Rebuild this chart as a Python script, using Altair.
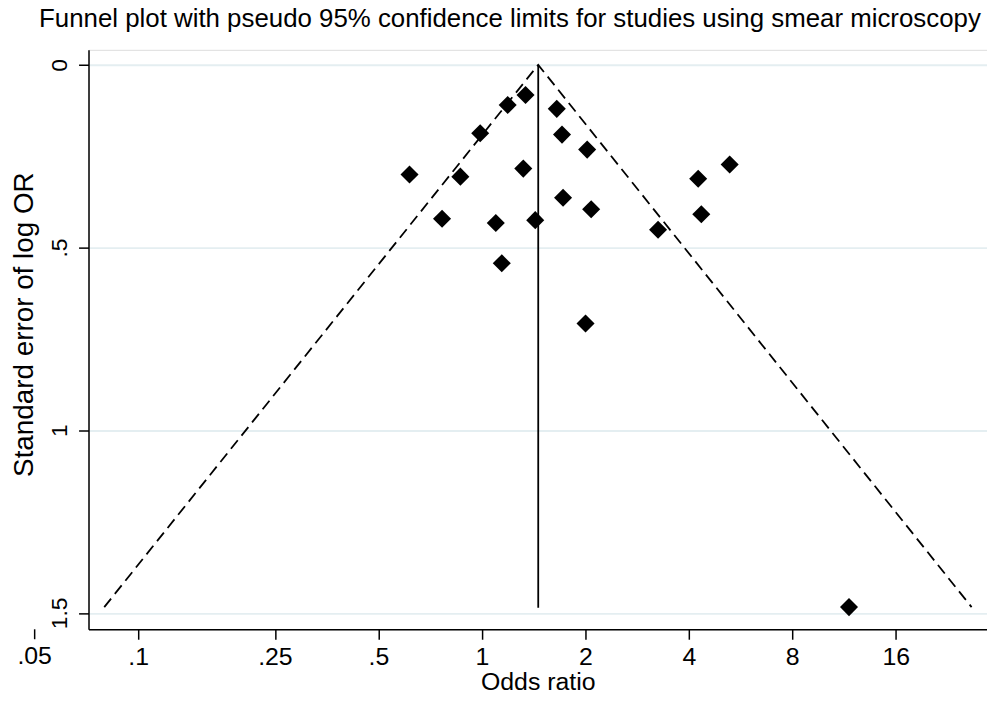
import altair as alt
import pandas as pd

# Study estimates
study_or = [0.616, 0.766, 0.866, 0.989, 1.098, 1.143, 1.189, 1.32, 1.34, 1.43,
            1.652, 1.711, 1.723, 2.025, 2.08, 2.003, 3.256, 4.26, 4.35, 5.26, 11.7]
study_se = [0.300, 0.421, 0.306, 0.187, 0.433, 0.543, 0.110, 0.284, 0.0825, 0.425,
            0.1205, 0.191, 0.364, 0.232, 0.395, 0.708, 0.4515, 0.312, 0.409, 0.273, 1.484]

# Pseudo 95% limits (funnel) and pooled estimate line
funnel_or = [0.0797, 1.459, 26.6]
funnel_se = [1.484, 0.0, 1.484]
funnel_order = [0, 1, 2]
pooled_or = [1.459, 1.459]
pooled_se = [0.0, 1.486]

x_ticks = [0.1, 0.25, 0.5, 1, 2, 4, 8, 16]
extra_tick = [0.05]
extra_label = [".05"]
y_ticks = [0, 0.5, 1, 1.5]

TITLE = "Funnel plot with pseudo 95% confidence limits for studies using smear microscopy"
FONT = "Liberation Sans"
W, H = 904, 583
FSX = 25      # horizontal texts
FSYL = 23     # rotated tick labels
FSYT = 28     # rotated axis title

pts = pd.DataFrame({"or": study_or, "se": study_se})
fun = pd.DataFrame({"or": funnel_or, "se": funnel_se, "o": funnel_order})
pool = pd.DataFrame({"or": pooled_or, "se": pooled_se})
extra = pd.DataFrame({"or": extra_tick, "lab": extra_label})

xscale = alt.Scale(type="log", domain=[0.07172, 29.49], nice=False)
yscale = alt.Scale(domain=[-0.041, 1.5447], reverse=True, nice=False, zero=False)

xaxis = alt.Axis(
    values=x_ticks, title="Odds ratio",
    labelExpr="datum.value < 1 ? substring(toString(datum.value), 1) : toString(datum.value)",
    grid=False, tickSize=10, tickWidth=1.5, tickColor="black", domainColor="black",
    domainWidth=1.5, labelPadding=5, labelFontSize=FSX, labelFont=FONT, labelColor="black",
    labelBaseline="top", titleFont=FONT, titleFontSize=FSX, titleFontWeight="normal",
    titleColor="black", titleBaseline="alphabetic", titleY=61, labelFlush=False,
)
yaxis = alt.Axis(
    values=y_ticks, title="Standard error of log OR",
    labelExpr="datum.value > 0 && datum.value < 1 ? substring(toString(datum.value), 1) : toString(datum.value)",
    grid=True, gridColor="#e4eef1", gridWidth=1.8,
    tickSize=10, tickWidth=1.5, tickColor="black", domainColor="black", domainWidth=1.5,
    labelAngle=270, labelAlign="center", labelBaseline="alphabetic", labelPadding=12,
    labelFontSize=FSYL, labelFont=FONT, labelColor="black", labelFlush=False,
    titleFont=FONT, titleFontSize=FSYT, titleFontWeight="normal", titleColor="black",
    titleAngle=270, titleAlign="center", titleBaseline="alphabetic", titleX=-56, titleY=276,
)

base_x = alt.X("or:Q", scale=xscale, axis=xaxis)
base_y = alt.Y("se:Q", scale=yscale, axis=yaxis)

funnel = alt.Chart(fun).mark_line(color="black", strokeWidth=1.8, strokeDash=[11, 6]).encode(
    x=base_x, y=base_y, order="o:Q")
pooled = alt.Chart(pool).mark_line(color="black", strokeWidth=1.8).encode(
    x=alt.X("or:Q", scale=xscale), y=alt.Y("se:Q", scale=yscale))
points = alt.Chart(pts).mark_point(shape="diamond", filled=True, color="black", size=330, opacity=1).encode(
    x=alt.X("or:Q", scale=xscale), y=alt.Y("se:Q", scale=yscale))
extra_tick_mark = alt.Chart(extra).mark_rule(color="black", strokeWidth=1.5).encode(
    x=alt.X("or:Q", scale=xscale), y=alt.value(H), y2=alt.value(H + 10))
extra_text = alt.Chart(extra).mark_text(font=FONT, fontSize=FSX, color="black", baseline="top", align="center").encode(
    x=alt.X("or:Q", scale=xscale), y=alt.value(H + 15), text="lab:N")

chart = alt.layer(funnel, pooled, points, extra_tick_mark, extra_text).properties(
    width=W, height=H,
    title=alt.TitleParams(TITLE, font=FONT, fontSize=26, fontWeight="normal", color="black",
                          anchor="middle", dx=-28, dy=24, offset=21, baseline="alphabetic"),
    padding={"left": 81, "top": 40, "right": 0, "bottom": 61},
    autosize=alt.AutoSizeParams(type="none"),
).configure_view(stroke=None).configure(background="white")

chart.save("out.html", embed_options={"renderer": "svg", "actions": False})
